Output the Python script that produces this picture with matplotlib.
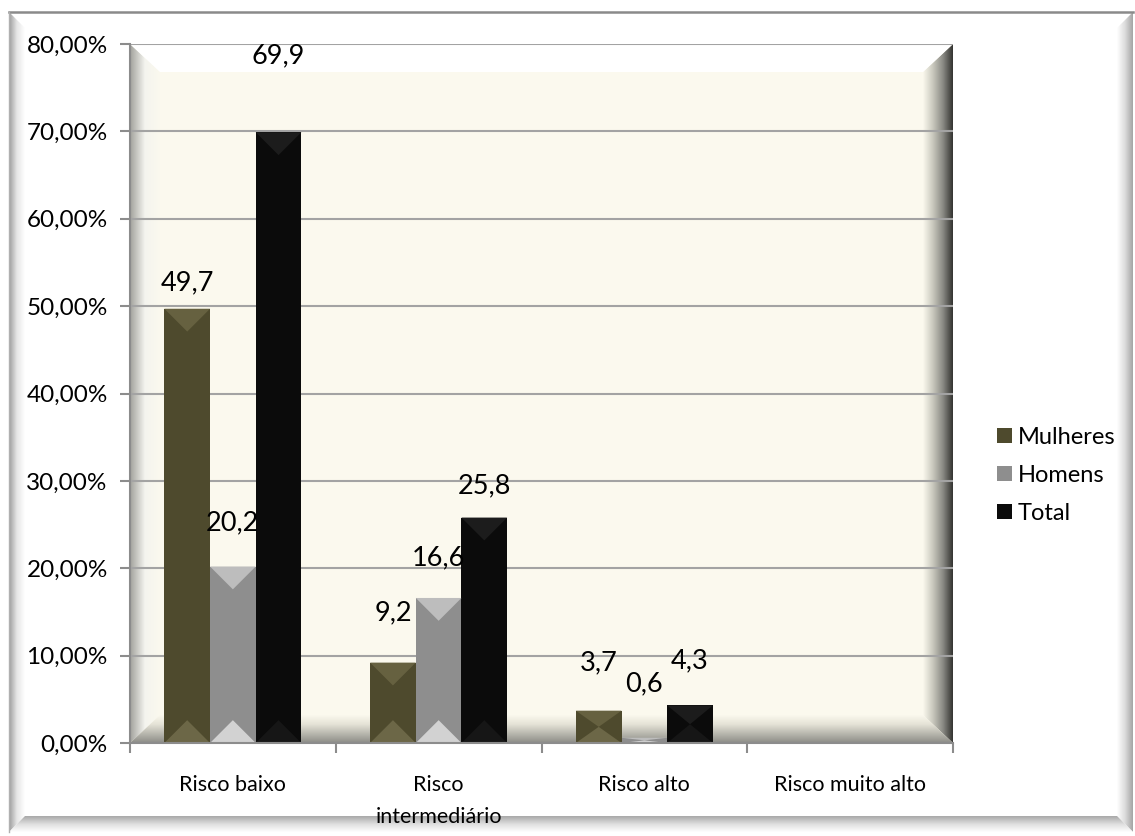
import numpy as np
import matplotlib
matplotlib.use("Agg")
import matplotlib.pyplot as plt
from matplotlib.colors import LinearSegmentedColormap
from matplotlib.patches import Polygon, Patch
from matplotlib.ticker import FuncFormatter, MultipleLocator, FixedLocator

# ---- data -------------------------------------------------------------
categories = ["Risco baixo", "Risco\nintermediário", "Risco alto", "Risco muito alto"]
series_names = ["Mulheres", "Homens", "Total"]
mulheres = [49.7, 9.2, 3.7, 0.0]
homens = [20.2, 16.6, 0.6, 0.0]
total = [69.9, 25.8, 4.3, 0.0]
y_ticks = [0, 10, 20, 30, 40, 50, 60, 70, 80]

# ---- styling ----------------------------------------------------------
plt.rcParams["font.family"] = ["Lato", "DejaVu Sans"]
W, H, DPI = 1135, 836, 100
body_colors = ["#4e4a2d", "#8e8e8e", "#0b0b0b"]
top_colors = ["#666140", "#bdbdbd", "#1c1c1c"]
bot_colors = ["#6c6747", "#d2d2d2", "#161616"]
label_lift_px = [[26, 44, 76], [50, 40, 32], [48, 54, 45]]
ivory = "#fbf9ee"

fig = plt.figure(figsize=(W / DPI, H / DPI), dpi=DPI)
fig.patch.set_facecolor("white")


def gradient_poly(ax, verts, colors, direction, transform, zorder):
    """Fill a polygon with a linear gradient (direction 'x' or 'y')."""
    verts = np.asarray(verts, float)
    x0, y0 = verts.min(axis=0)
    x1, y1 = verts.max(axis=0)
    cmap = LinearSegmentedColormap.from_list("g", colors)
    ramp = np.linspace(0, 1, 256)
    img = ramp[None, :] if direction == "x" else ramp[:, None]
    poly = Polygon(verts, closed=True, transform=transform,
                   facecolor="none", edgecolor="none")
    ax.add_patch(poly)
    im = ax.imshow(img, cmap=cmap, extent=(x0, x1, y0, y1), origin="lower",
                   aspect="auto", transform=transform, zorder=zorder,
                   interpolation="bilinear")
    im.set_clip_path(poly)
    return im


# ---- outer chart frame with bevel ------------------------------------
bg = fig.add_axes([0, 0, 1, 1], zorder=-5)
bg.set_xlim(0, W)
bg.set_ylim(H, 0)
bg.axis("off")
L, T, R, B = 9, 12, 1133, 832
bv = 16
bg.add_patch(Polygon([(L, T), (R, T), (R, B), (L, B)], closed=True,
                     facecolor="white", edgecolor="none", zorder=0))
gradient_poly(bg, [(L, T), (L + bv, T + bv), (L + bv, B - bv), (L, B)],
              ["#9c9c9c", "#e6e6e6", "#ffffff"], "x", bg.transData, 1)
gradient_poly(bg, [(R, T), (R - bv, T + bv), (R - bv, B - bv), (R, B)],
              ["#ffffff", "#dcdcdc", "#a4a4a4"], "x", bg.transData, 1)
gradient_poly(bg, [(L, B), (L + bv, B - bv), (R - bv, B - bv), (R, B)],
              ["#a8a8a8", "#dedede", "#ffffff"], "y", bg.transData, 1.1)
bg.plot([L, R], [T, T], color="#8a8a8a", lw=1.8, zorder=3)
bg.plot([L, L], [T, B], color="#b0b0b0", lw=1.0, zorder=3)

# ---- plot area --------------------------------------------------------
ax_l, ax_t, ax_r, ax_b = 130, 44, 953, 743
ax = fig.add_axes([ax_l / W, (H - ax_b) / H, (ax_r - ax_l) / W, (ax_b - ax_t) / H])
ax.set_facecolor(ivory)
ax.set_xlim(-0.5, len(categories) - 0.5)
ax.set_ylim(y_ticks[0], y_ticks[-1])
ax_w_px, ax_h_px = ax_r - ax_l, ax_b - ax_t

# bevel of the plot area
bw, bh = 30 / ax_w_px, 28 / ax_h_px
ta = ax.transAxes
gradient_poly(ax, [(0, 0), (bw, bh), (bw, 1 - bh), (0, 1)],
              ["#a2a29c", "#f4f4ef", ivory], "x", ta, 0.1)
gradient_poly(ax, [(1, 0), (1 - bw, bh), (1 - bw, 1 - bh), (1, 1)],
              [ivory, "#c9c8bd", "#8a8a84", "#333330"], "x", ta, 0.1)
gradient_poly(ax, [(0, 0), (1, 0), (1 - bw, bh), (bw, bh)],
              ["#8c8c86", "#b8b7ae", "#e4e2d6", ivory], "y", ta, 0.12)
gradient_poly(ax, [(0, 1), (1, 1), (1 - bw, 1 - bh), (bw, 1 - bh)],
              ["#ffffff", "#ffffff"], "y", ta, 0.12)

# grid, spines, ticks
ax.set_axisbelow(True)
ax.yaxis.set_major_locator(FixedLocator(y_ticks))
ax.yaxis.grid(True, color="#a3a3a3", lw=1.5)
ax.yaxis.set_major_formatter(FuncFormatter(lambda v, p: f"{v:.2f}%".replace(".", ",")))
for s in ["top", "right"]:
    ax.spines[s].set_visible(False)
for s in ["left", "bottom"]:
    ax.spines[s].set_color("#8c8c8c")
    ax.spines[s].set_linewidth(1.5)
ax.xaxis.set_major_locator(MultipleLocator(1.0, offset=0.5))
ax.xaxis.set_major_formatter(FuncFormatter(lambda v, p: ""))
ax.set_xticks(np.arange(len(categories)), categories, minor=True)
for lbl in ax.get_xticklabels(minor=True):
    lbl.set_linespacing(1.75)
ax.tick_params(axis="x", which="minor", length=0, pad=23, labelsize=15.5)
ax.tick_params(axis="x", which="major", length=7, width=1.5, color="#8c8c8c")
ax.tick_params(axis="y", length=7, width=1.5, color="#8c8c8c", labelsize=17.5, pad=9)

# ---- bars --------------------------------------------------------------
series = [mulheres, homens, total]
bar_w = 0.222
x = np.arange(len(categories))
px_per_x = ax_w_px / len(categories)
y_per_px = (y_ticks[-1] - y_ticks[0]) / ax_h_px
for i, vals in enumerate(series):
    xs = x + (i - 1) * bar_w
    ax.bar(xs, vals, width=bar_w, color=body_colors[i], zorder=2,
           label=series_names[i], edgecolor="none")
    depth_full = bar_w * px_per_x / 2 * y_per_px
    for j, (xc, v) in enumerate(zip(xs, vals)):
        if v <= 0:
            continue
        d = min(depth_full, v / 2)
        x0, x1 = xc - bar_w / 2, xc + bar_w / 2
        ax.add_patch(Polygon([(x0, v), (x1, v), (xc, v - d)], closed=True,
                             facecolor=top_colors[i], edgecolor="none", zorder=2.1))
        ax.add_patch(Polygon([(x0, 0), (x1, 0), (xc, d)], closed=True,
                             facecolor=bot_colors[i], edgecolor="none", zorder=2.1))
        if j < len(label_lift_px):
            ax.annotate(f"{v:.1f}".replace(".", ","), (xc, v),
                        xytext=(0, label_lift_px[j][i]), textcoords="offset pixels",
                        ha="center", va="center", fontsize=19.5, zorder=5,
                        annotation_clip=False)

# ---- legend -----------------------------------------------------------
handles = [Patch(facecolor=c, edgecolor="none") for c in body_colors]
fig.legend(handles, series_names, loc="center left",
           bbox_to_anchor=(988 / W, (H - 475) / H), frameon=False,
           fontsize=17, handlelength=0.6, handleheight=0.6,
           handletextpad=0.25, labelspacing=0.72, borderaxespad=0)

fig.savefig("out.png", dpi=DPI, facecolor="white")
